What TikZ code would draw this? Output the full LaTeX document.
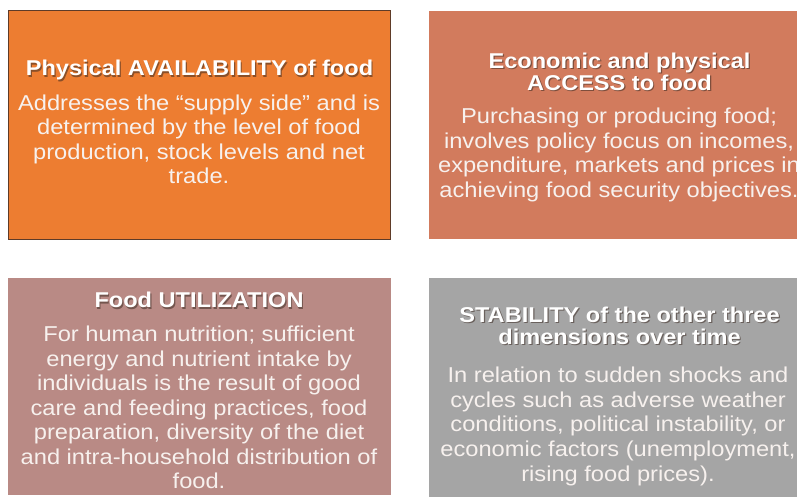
\documentclass[tikz,border=0pt]{standalone}
\usepackage{fontspec}
\setmainfont{Liberation Sans}[FakeStretch=1.1]
\definecolor{availfill}{HTML}{ED7D31}
\definecolor{availedge}{HTML}{5E3B28}
\definecolor{accessfill}{HTML}{D27B5D}
\definecolor{utilfill}{HTML}{B98A85}
\definecolor{stabfill}{HTML}{A5A5A5}
\definecolor{bodytext}{HTML}{F7F1EE}
\definecolor{shade}{HTML}{3A2A22}
% multi-line nodes below are placed by the baseline of their last line
\tikzset{
  ttl/.style={text=white, font=\fontsize{21.5}{22.5}\selectfont\bfseries, align=center, inner sep=0pt, anchor=base},
  ttlshade/.style={ttl, text=shade, text opacity=0.55},
  body/.style={text=bodytext, font=\fontsize{21.6}{24.6}\selectfont, align=center, inner sep=0pt, anchor=base},
}
\begin{document}
\begin{tikzpicture}[x=1bp,y=-1bp]
\useasboundingbox (0,0) rectangle (797,497);
\clip (0,0) rectangle (797,497);
% the four dimension panels
\fill[availfill] (8,10) rectangle (391,240);
\draw[availedge, line width=1bp] (8.5,10.5) rectangle (390.5,239.5);
\fill[accessfill] (429,11) rectangle (812,239);
\fill[utilfill] (8,278) rectangle (391,495);
\fill[stabfill] (429,278) rectangle (812,497);

% availability
\node[ttlshade] (t1s) at (200.7,77.2) {Physical AVAILABILITY of food};
\node[ttl] (t1) at (199.5,76) {Physical AVAILABILITY of food};
\node[body] (b1) at (199,184) {Addresses the “supply side” and is\\determined by the level of food\\production, stock levels and net\\trade.};

% access
\node[ttlshade] (t2s) at (620.7,91.7) {Economic and physical\\ACCESS to food};
\node[ttl] (t2) at (619.5,90.5) {Economic and physical\\ACCESS to food};
\node[body] (b2) at (619,197.5) {Purchasing or producing food;\\involves policy focus on incomes,\\expenditure, markets and prices in\\achieving food security objectives.};

% utilization
\node[ttlshade] (t3s) at (200.2,309.2) {Food UTILIZATION};
\node[ttl] (t3) at (199,308) {Food UTILIZATION};
\node[body] (b3) at (199,488.6) {For human nutrition; sufficient\\energy and nutrient intake by\\individuals is the result of good\\care and feeding practices, food\\preparation, diversity of the diet\\and intra-household distribution of\\food.};

% stability
\node[ttlshade] (t4s) at (620.7,345.7) {STABILITY of the other three\\dimensions over time};
\node[ttl] (t4) at (619.5,344.5) {STABILITY of the other three\\dimensions over time};
\node[body] (b4) at (618,481) {In relation to sudden shocks and\\cycles such as adverse weather\\conditions, political instability, or\\economic factors (unemployment,\\rising food prices).};
\end{tikzpicture}
\end{document}
